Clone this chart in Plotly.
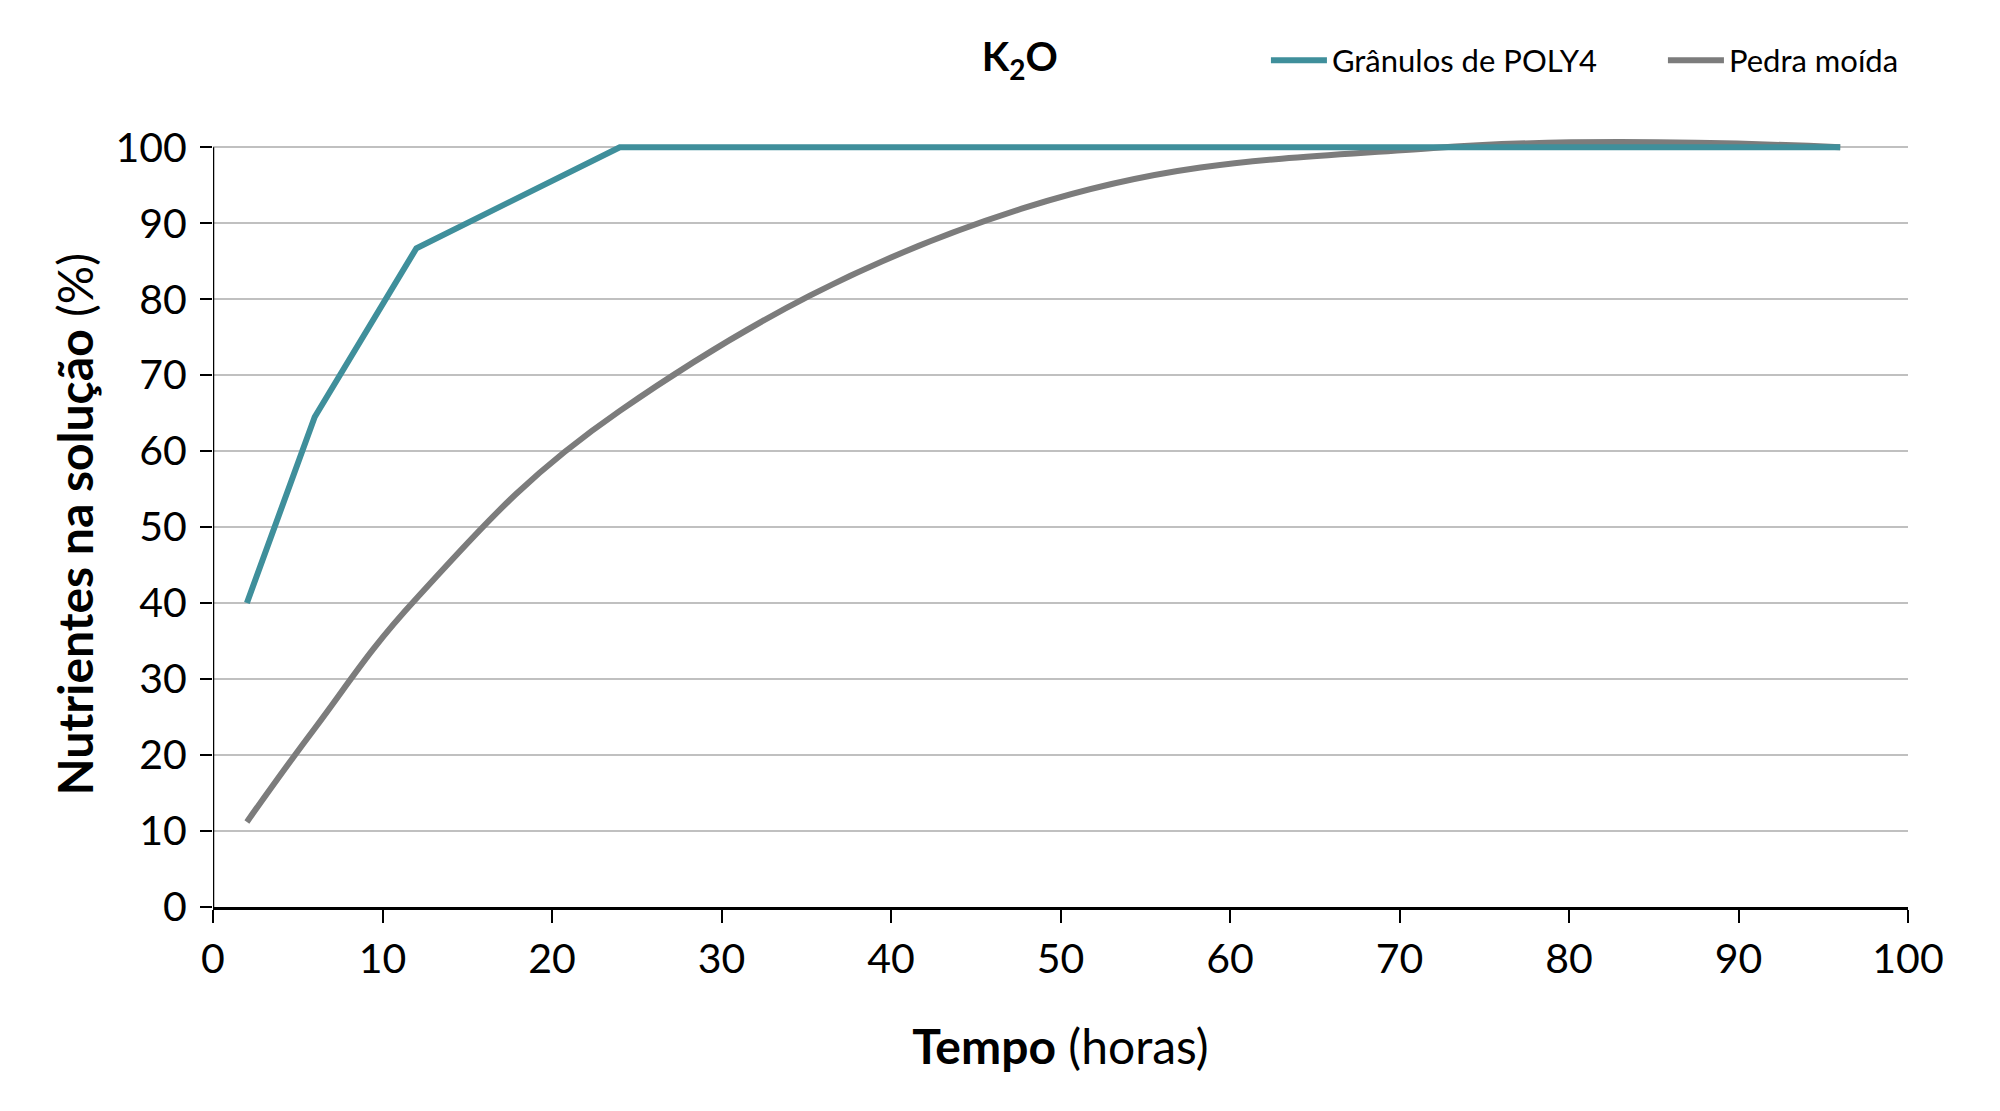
import plotly.graph_objects as go

# Data
tempo_poly4 = [2, 6, 12, 24, 48, 72, 96]
poly4 = [40, 64.5, 86.7, 100, 100, 100, 100]

tempo_pedra = [2, 6, 12, 24, 48, 72, 96]
pedra = [11.2, 23.5, 40.6, 65.3, 92.1, 99.9, 100]

x_ticks = [0, 10, 20, 30, 40, 50, 60, 70, 80, 90, 100]
y_ticks = [0, 10, 20, 30, 40, 50, 60, 70, 80, 90, 100]

FONT = "Lato"
TEAL = "#3F8F9B"
GRAY = "#7C7C7C"

fig = go.Figure()
fig.add_trace(go.Scatter(
    x=tempo_pedra, y=pedra, mode="lines", name="Pedra moída",
    line=dict(color=GRAY, width=6, shape="spline", smoothing=1.15),
))
fig.add_trace(go.Scatter(
    x=tempo_poly4, y=poly4, mode="lines", name="Grânulos de POLY4",
    line=dict(color=TEAL, width=6, shape="linear"),
))

# y axis line from 0 to 100 only
fig.add_shape(type="line", xref="x", yref="y", x0=0, x1=0, y0=0, y1=100,
              line=dict(color="black", width=2.5), layer="above")

# y axis title (placed as annotation to centre it on the 0-100 span)
fig.add_annotation(text="<b>Nutrientes na solução</b> (%)", textangle=-90,
                   xref="paper", x=-0.082, xanchor="center",
                   yref="paper", y=0.494, yanchor="middle", showarrow=False,
                   font=dict(family=FONT, size=48, color="black"))

fig.update_layout(
    width=1984, height=1095,
    margin=dict(l=205, r=84, t=124, b=196, autoexpand=False),
    paper_bgcolor="white", plot_bgcolor="white",
    font=dict(family=FONT, color="black"),
    title=dict(text="<b>K<sub>2</sub>O</b>", x=0.510, xref="container", xanchor="center",
               y=0.955, yref="container", yanchor="middle",
               font=dict(family=FONT, size=40, color="black")),
    showlegend=True,
    legend=dict(orientation="h", x=0.6212, xanchor="left", y=1.092, yanchor="middle",
                traceorder="reversed", font=dict(family=FONT, size=31, color="black"),
                bgcolor="rgba(0,0,0,0)", itemwidth=56,
                entrywidth=326, entrywidthmode="pixels"),
    xaxis=dict(
        range=[0, 100], tickvals=x_ticks, ticktext=[str(v) for v in x_ticks],
        showline=True, linecolor="black", linewidth=2.5, mirror=False,
        ticks="outside", ticklen=13, tickwidth=2, tickcolor="black",
        showgrid=False, zeroline=False, ticklabelstandoff=1,
        tickfont=dict(family=FONT, size=41, color="black"),
        title=dict(text="<b>Tempo</b> (horas)", standoff=50,
                   font=dict(family=FONT, size=48, color="black")),
    ),
    yaxis=dict(
        range=[0, 102], tickvals=y_ticks, ticktext=[str(v) for v in y_ticks],
        showline=False, ticks="outside", ticklen=12, tickwidth=2, tickcolor="black",
        showgrid=True, gridcolor="#C0C0C0", gridwidth=1.5, zeroline=False,
        ticklabelstandoff=5,
        tickfont=dict(family=FONT, size=41, color="black"),
    ),
)

fig.write_html("out.html")
